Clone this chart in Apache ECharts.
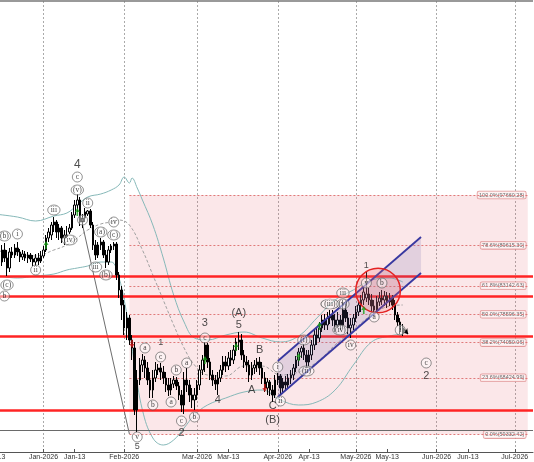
<!DOCTYPE html>
<html>
<head>
<meta charset="utf-8">
<script src="https://cdn.jsdelivr.net/npm/echarts@6/dist/echarts.min.js"></script>
<style>
  html, body { margin: 0; padding: 0; background: #fff; }
  #chart { width: 534px; height: 462px; }
</style>
</head>
<body>
<div id="chart"></div>
<script>
// axis days and tick labels
const firstDay = '2025-12-13';
const lastDay = '2026-07-08';
const tickDates = ['2025-12-13', '2026-01-01', '2026-01-13', '2026-02-01', '2026-03-01', '2026-03-13',
  '2026-04-01', '2026-04-13', '2026-05-01', '2026-05-13', '2026-06-01', '2026-06-13', '2026-07-01'];
const gridDates = ['2026-01-01', '2026-02-01', '2026-03-01', '2026-04-01', '2026-05-01', '2026-06-01', '2026-07-01'];

// daily candles: date, open, close, low, high
const candles = [
  ['2025-12-15', 88070, 86950, 86310, 88870], ['2025-12-16', 86950, 88870, 86310, 89670],
  ['2025-12-17', 88870, 87590, 86950, 89990], ['2025-12-18', 87590, 85990, 84710, 88870],
  ['2025-12-19', 85990, 88550, 85350, 89190], ['2025-12-20', 88550, 88070, 87590, 89350],
  ['2025-12-21', 88070, 89190, 87590, 89830], ['2025-12-22', 89190, 88550, 87910, 90150],
  ['2025-12-23', 88550, 87750, 86950, 89030], ['2025-12-24', 87750, 88230, 87270, 88870],
  ['2025-12-25', 88230, 87590, 87110, 88710], ['2025-12-26', 87590, 88070, 86790, 88550],
  ['2025-12-27', 88070, 87430, 86950, 88390], ['2025-12-28', 87430, 86950, 86310, 88070],
  ['2025-12-29', 86950, 87590, 86310, 88230], ['2025-12-30', 87590, 87110, 86470, 88390],
  ['2025-12-31', 87110, 87910, 86790, 88710],
  ['2026-01-01', 87910, 88870, 87590, 89510], ['2026-01-02', 88870, 90790, 88550, 91270],
  ['2026-01-03', 90790, 91750, 90150, 92390], ['2026-01-04', 91270, 92870, 90470, 93350],
  ['2026-01-05', 92870, 93350, 91750, 94150], ['2026-01-06', 93350, 91750, 90790, 93670],
  ['2026-01-07', 91750, 92390, 90470, 93030], ['2026-01-08', 92390, 90790, 89990, 92710],
  ['2026-01-09', 90790, 91270, 89670, 92070], ['2026-01-10', 91270, 91110, 90790, 92710],
  ['2026-01-11', 91750, 92390, 91430, 93030], ['2026-01-12', 92390, 94470, 92070, 94950],
  ['2026-01-13', 94470, 96070, 93990, 96870], ['2026-01-14', 96070, 96870, 94950, 97830],
  ['2026-01-15', 96870, 93350, 92710, 97350], ['2026-01-16', 93350, 93990, 92390, 94630],
  ['2026-01-17', 93990, 94950, 93350, 95590], ['2026-01-18', 94630, 95110, 94310, 95270],
  ['2026-01-19', 95110, 92870, 92390, 95430], ['2026-01-20', 92870, 89670, 88870, 93350],
  ['2026-01-21', 89670, 88070, 87270, 90470], ['2026-01-22', 88070, 89670, 87590, 90150],
  ['2026-01-23', 89670, 90150, 88870, 90790], ['2026-01-24', 90150, 88070, 87590, 90470],
  ['2026-01-25', 88070, 86950, 85990, 88870], ['2026-01-26', 86950, 88870, 86470, 89510],
  ['2026-01-27', 88870, 89510, 88390, 89830], ['2026-01-28', 89510, 89830, 88870, 90150],
  ['2026-01-29', 89830, 84870, 84070, 90150], ['2026-01-30', 84870, 82470, 81190, 85350],
  ['2026-01-31', 82470, 80070, 77670, 83110],
  ['2026-02-01', 80070, 76390, 75270, 80870], ['2026-02-02', 76390, 77990, 74470, 78950],
  ['2026-02-03', 77990, 74470, 73670, 78470], ['2026-02-04', 74470, 73190, 71270, 75270],
  ['2026-02-05', 73190, 63270, 62470, 74150], ['2026-02-06', 63270, 68070, 59750, 69670],
  ['2026-02-07', 68070, 70470, 67270, 71590], ['2026-02-08', 70470, 71270, 69350, 72230],
  ['2026-02-09', 71270, 69990, 68390, 71910], ['2026-02-10', 69990, 68070, 67270, 70950],
  ['2026-02-11', 68070, 66470, 65190, 69350], ['2026-02-12', 66470, 68390, 65190, 69670],
  ['2026-02-13', 68390, 69670, 67750, 70950], ['2026-02-14', 69670, 69990, 68870, 70630],
  ['2026-02-15', 69990, 69350, 68070, 70790], ['2026-02-16', 69350, 68390, 67430, 70310],
  ['2026-02-17', 68390, 67270, 66150, 69350], ['2026-02-18', 67270, 66470, 65510, 68390],
  ['2026-02-19', 66470, 67430, 65670, 68390], ['2026-02-20', 67430, 68070, 66790, 68710],
  ['2026-02-21', 68070, 67110, 66470, 68550], ['2026-02-22', 67110, 65670, 64870, 67750],
  ['2026-02-23', 65670, 64070, 62950, 66470], ['2026-02-24', 64070, 68070, 62630, 69350],
  ['2026-02-25', 68070, 67270, 66150, 69990], ['2026-02-26', 67270, 65670, 64550, 68070],
  ['2026-02-27', 65670, 64870, 63590, 66790], ['2026-02-28', 64870, 65670, 63270, 66790],
  ['2026-03-01', 65670, 67270, 64870, 68070], ['2026-03-02', 67270, 69670, 66470, 70470],
  ['2026-03-03', 69670, 71270, 68870, 72070], ['2026-03-04', 71270, 73670, 69350, 74150],
  ['2026-03-05', 73670, 70950, 69990, 73990], ['2026-03-06', 70950, 68870, 68070, 71590],
  ['2026-03-07', 68870, 68070, 67110, 69670], ['2026-03-08', 68070, 67430, 66470, 68870],
  ['2026-03-09', 67430, 68390, 65670, 69350], ['2026-03-10', 68390, 69670, 67750, 70470],
  ['2026-03-11', 69670, 70950, 68870, 71910], ['2026-03-12', 70950, 70310, 69350, 71910],
  ['2026-03-13', 70310, 71590, 69670, 72550], ['2026-03-14', 71590, 71270, 70310, 72870],
  ['2026-03-15', 71270, 72870, 70630, 73670], ['2026-03-16', 72870, 74150, 71910, 74790],
  ['2026-03-17', 74150, 74470, 72870, 75750], ['2026-03-18', 74470, 72070, 71270, 75430],
  ['2026-03-19', 72070, 70950, 69990, 72870], ['2026-03-20', 70950, 70470, 69350, 71910],
  ['2026-03-21', 70470, 68870, 67750, 71270], ['2026-03-22', 68870, 69990, 68070, 70950],
  ['2026-03-23', 69990, 70470, 69030, 71270], ['2026-03-24', 70470, 70950, 69350, 71590],
  ['2026-03-25', 70950, 69990, 68870, 71750], ['2026-03-26', 69990, 68390, 67430, 70950],
  ['2026-03-27', 68390, 66790, 66150, 69350], ['2026-03-28', 66790, 67750, 65670, 68390],
  ['2026-03-29', 67750, 66470, 65510, 68070], ['2026-03-30', 66470, 65670, 64550, 67270],
  ['2026-03-31', 65670, 68070, 65190, 68870],
  ['2026-04-01', 68070, 68710, 67270, 69190], ['2026-04-02', 68710, 66790, 65670, 69030],
  ['2026-04-03', 66790, 67750, 66150, 68390], ['2026-04-04', 67750, 67270, 66470, 68710],
  ['2026-04-05', 67270, 68390, 66790, 69030], ['2026-04-06', 68390, 68870, 67430, 69670],
  ['2026-04-07', 68870, 69990, 68070, 70630], ['2026-04-08', 69990, 71270, 69350, 71910],
  ['2026-04-09', 71270, 72550, 70310, 73190], ['2026-04-10', 72550, 73190, 71590, 73510],
  ['2026-04-11', 73190, 72070, 71270, 73830], ['2026-04-12', 72070, 70950, 69990, 72870],
  ['2026-04-13', 70950, 72070, 70310, 72870], ['2026-04-14', 72070, 73670, 71270, 74470],
  ['2026-04-15', 73670, 75270, 72870, 76070], ['2026-04-16', 75270, 74790, 73670, 76390],
  ['2026-04-17', 74790, 76390, 74150, 77350], ['2026-04-18', 76390, 77670, 75750, 78470],
  ['2026-04-19', 77670, 76870, 76070, 78630], ['2026-04-20', 76870, 77990, 76070, 78950],
  ['2026-04-21', 77990, 78470, 77030, 79270], ['2026-04-22', 78470, 77670, 76710, 79270],
  ['2026-04-23', 77670, 76870, 75750, 78630], ['2026-04-24', 76870, 77670, 76390, 78950],
  ['2026-04-25', 77670, 76870, 76070, 78470], ['2026-04-26', 76870, 79270, 76390, 80870],
  ['2026-04-27', 79270, 77990, 77350, 80550], ['2026-04-28', 77990, 76390, 75430, 78950],
  ['2026-04-29', 76390, 76870, 74790, 77990], ['2026-04-30', 76870, 77990, 76070, 78630],
  ['2026-05-01', 77990, 78950, 77350, 79910], ['2026-05-02', 78950, 80070, 78310, 80870],
  ['2026-05-03', 80070, 80870, 78950, 81670], ['2026-05-04', 80870, 82150, 80070, 82790],
  ['2026-05-05', 81190, 81830, 80550, 85350], ['2026-05-06', 81830, 80870, 80070, 82790],
  ['2026-05-07', 80870, 79910, 78950, 81830], ['2026-05-08', 79910, 79270, 78310, 80870],
  ['2026-05-09', 79270, 80550, 78950, 81510], ['2026-05-10', 80550, 81190, 79910, 82150],
  ['2026-05-11', 81190, 80870, 80070, 82470], ['2026-05-12', 80870, 81510, 79910, 82310],
  ['2026-05-13', 81510, 80550, 79590, 82150], ['2026-05-14', 80550, 81190, 79910, 81990],
  ['2026-05-15', 81190, 80070, 79270, 81670], ['2026-05-16', 80070, 78470, 77670, 80870],
  ['2026-05-17', 78470, 77350, 76710, 78950], ['2026-05-18', 77350, 76070, 75430, 77990],
  ['2026-05-19', 76390, 75590, 75110, 77030]
];

// bollinger style envelope
const upperBand = [
  ['2025-12-13', 94630], ['2025-12-22', 94150], ['2025-12-29', 93510], ['2026-01-05', 94310],
  ['2026-01-10', 94790], ['2026-01-14', 96070], ['2026-01-18', 97350], ['2026-01-23', 97830],
  ['2026-01-27', 98470], ['2026-01-30', 99270], ['2026-02-01', 100550], ['2026-02-03', 99590],
  ['2026-02-04', 100390], ['2026-02-06', 98790], ['2026-02-08', 96870], ['2026-02-12', 92870],
  ['2026-02-16', 87590], ['2026-02-20', 81670], ['2026-02-24', 77350], ['2026-02-28', 74790],
  ['2026-03-05', 74470], ['2026-03-12', 75270], ['2026-03-19', 75750], ['2026-03-26', 74790],
  ['2026-04-02', 74150], ['2026-04-09', 75110], ['2026-04-16', 77990], ['2026-04-23', 80870],
  ['2026-04-30', 82470], ['2026-05-07', 84070], ['2026-05-14', 84390], ['2026-05-19', 83750]
];
const middleBand = [
  ['2025-12-13', 88870], ['2025-12-22', 88230], ['2025-12-29', 87910], ['2026-01-05', 88870],
  ['2026-01-10', 89670], ['2026-01-14', 90790], ['2026-01-18', 92070], ['2026-01-23', 93030],
  ['2026-01-27', 93350], ['2026-01-30', 93670], ['2026-02-03', 92870], ['2026-02-08', 88870],
  ['2026-02-12', 84870], ['2026-02-16', 80870], ['2026-02-20', 76870], ['2026-02-24', 73190],
  ['2026-02-28', 70470], ['2026-03-05', 68870], ['2026-03-12', 68710], ['2026-03-19', 70310],
  ['2026-03-26', 70310], ['2026-04-02', 68870], ['2026-04-09', 69350], ['2026-04-16', 70950],
  ['2026-04-23', 73670], ['2026-04-30', 76070], ['2026-05-07', 78470], ['2026-05-14', 79910],
  ['2026-05-19', 80070]
];
const lowerBand = [
  ['2025-12-13', 84870], ['2025-12-22', 84390], ['2025-12-29', 84710], ['2026-01-05', 85030],
  ['2026-01-10', 85670], ['2026-01-14', 85990], ['2026-01-18', 86310], ['2026-01-23', 86950],
  ['2026-01-27', 86950], ['2026-01-30', 84390], ['2026-02-01', 80870], ['2026-02-03', 76070],
  ['2026-02-05', 70470], ['2026-02-08', 63270], ['2026-02-12', 58790], ['2026-02-16', 57670],
  ['2026-02-20', 58470], ['2026-02-24', 60390], ['2026-02-28', 62470], ['2026-03-05', 64070],
  ['2026-03-12', 65190], ['2026-03-19', 66150], ['2026-03-26', 66470], ['2026-04-02', 64870],
  ['2026-04-09', 64070], ['2026-04-16', 64550], ['2026-04-23', 66470], ['2026-04-30', 70470],
  ['2026-05-07', 74150], ['2026-05-14', 75110], ['2026-05-19', 75430]
];
const dropLine = [['2026-01-16', 92870], ['2026-02-03', 59430]];

// fibonacci retracement and horizontal levels
const fibPct = [100, 78.6, 61.8, 50, 38.2, 23.6, 0];
const fibPrice = [97660.28, 89615.30, 83142.63, 78596.35, 74050.06, 68424.99, 59332.42];
const fibFrom = '2026-02-03';
const fibTo = '2026-07-06';
const supportLines = [84630, 81460, 75110, 63270];
const baseLine = 59990;

// channel, ring and arrows
const channelUpper = [['2026-04-01', 71110], ['2026-05-26', 90950]];
const channelLower = [['2026-04-01', 65350], ['2026-05-26', 85190]];
const ringBox = [['2026-05-01', 85990], ['2026-05-18', 78790]];
const buyArrows = [['2026-01-02', 89670], ['2026-01-14', 94950], ['2026-03-04', 71270], ['2026-03-16', 73350],
  ['2026-04-09', 71750], ['2026-04-17', 76710], ['2026-05-04', 79270]];
const sellArrows = [['2026-02-04', 73830], ['2026-03-27', 66790]];
const endArrow = [['2026-05-19', 76390], ['2026-05-21', 75430]];

// wave labels
const circledLabels = [
  ['2025-12-17', 91110, '(b)'], ['2025-12-18', 83270, '(c)'], ['2025-12-17', 81510, 'b'],
  ['2025-12-22', 91430, 'i'], ['2025-12-29', 85670, 'ii'], ['2026-01-05', 95270, 'iii'],
  ['2026-01-11', 90470, '(iv)'], ['2026-01-14', 100550, 'c'], ['2026-01-14', 98470, '(v)'],
  ['2026-01-16', 93670, 'i'], ['2026-01-18', 96390, 'ii'], ['2026-01-21', 86150, 'iii'],
  ['2026-01-23', 91750, '(a)'], ['2026-01-25', 84870, '(b)'], ['2026-01-28', 93350, 'iv'],
  ['2026-01-28', 91270, '(c)'], ['2026-02-06', 58950, 'v'], ['2026-02-09', 73190, 'a'],
  ['2026-02-15', 71750, 'c'], ['2026-02-12', 64070, 'b'], ['2026-02-21', 69670, 'b'],
  ['2026-02-19', 64550, 'a'], ['2026-02-25', 70790, 'a'], ['2026-02-23', 61510, 'c'],
  ['2026-02-28', 62150, 'b'], ['2026-03-04', 74790, 'c'], ['2026-04-01', 70150, 'i'],
  ['2026-04-02', 64710, 'ii'], ['2026-04-11', 74470, '(i)'], ['2026-04-12', 69510, '(ii)'],
  ['2026-04-21', 80230, '(iii)'], ['2026-04-26', 80230, '(v)'], ['2026-04-26', 81990, 'iii'],
  ['2026-04-25', 76070, '(iv)'], ['2026-04-29', 73670, 'iv'], ['2026-05-05', 83590, 'v'],
  ['2026-05-11', 83590, 'b'], ['2026-05-08', 78150, 'a'], ['2026-05-18', 76070, 'i'],
  ['2026-05-28', 70790, 'c']
];
const bigLabels = [
  ['2026-01-14', 102470, '4', 12], ['2026-02-06', 57350, '5', 9], ['2026-02-15', 73990, '1', 9],
  ['2026-02-23', 59590, '2', 11], ['2026-03-04', 77190, '3', 11], ['2026-03-09', 64870, '4', 11],
  ['2026-03-17', 76870, '5', 11], ['2026-03-17', 78790, '(A)', 11], ['2026-03-22', 66470, 'A', 11],
  ['2026-03-25', 72870, 'B', 11], ['2026-03-30', 63910, 'C', 11], ['2026-03-30', 61670, '(B)', 11],
  ['2026-05-05', 86310, '1', 9], ['2026-05-28', 68710, '2', 11]
];

const months = ['Jan', 'Feb', 'Mar', 'Apr', 'May', 'Jun', 'Jul', 'Aug', 'Sep', 'Oct', 'Nov', 'Dec'];

function dayList(from, to) {
  const out = [];
  const t1 = Date.parse(to + 'T00:00:00Z');
  for (let t = Date.parse(from + 'T00:00:00Z'); t <= t1; t += 86400000) {
    out.push(new Date(t).toISOString().slice(0, 10));
  }
  return out;
}
const days = dayList(firstDay, lastDay);
const idx = d => days.indexOf(d);
const pt = r => [idx(r[0]), r[1]];

const candleMap = {};
candles.forEach(r => { candleMap[r[0]] = r.slice(1); });
const candleData = days.map(d => candleMap[d] || '-');

function tickLabel(v) {
  const m = months[+v.slice(5, 7) - 1];
  return v.slice(8) === '01' ? m + '-' + v.slice(0, 4) : m + '-' + v.slice(8);
}

const arrowPath = 'path://M5,0 L10,5 L6.6,5 L6.6,10 L3.4,10 L3.4,5 L0,5 Z';

let chart = echarts.init(document.getElementById('chart'));
chart.setOption({
  animation: false,
  backgroundColor: '#fff',
  grid: { left: -6, right: 1, top: 1, bottom: 10, containLabel: false, outerBoundsMode: 'none' },
  xAxis: {
    type: 'category',
    data: days,
    boundaryGap: false,
    axisLine: { lineStyle: { color: '#555', width: 1 } },
    axisTick: {
      inside: true, length: 3, lineStyle: { color: '#555' },
      interval: (i, v) => tickDates.includes(v)
    },
    axisLabel: {
      interval: (i, v) => tickDates.includes(v),
      formatter: tickLabel,
      fontSize: 7, color: '#333', margin: 2, fontFamily: 'Liberation Sans'
    },
    splitLine: {
      show: true,
      interval: (i, v) => gridDates.includes(v),
      lineStyle: { color: '#aaa', type: [2, 2], width: 1 }
    }
  },
  yAxis: {
    type: 'value', min: 56550, max: 128710, show: false,
    splitLine: { show: false }
  },
  series: [
    {
      // fibonacci zone with labels
      type: 'scatter', z: 1, symbolSize: 0,
      data: fibPrice.map((p, i) => ({
        value: [idx(fibTo), p],
        label: {
          show: true, position: 'left', distance: 2,
          formatter: fibPct[i].toFixed(1) + '%(' + p.toFixed(2) + ')',
          fontSize: 5.5, color: '#444', fontFamily: 'Liberation Sans',
          backgroundColor: 'rgba(255,246,246,0.95)', borderColor: '#d88', borderWidth: 0.8,
          borderRadius: 1.5, padding: [1, 1.5, 0, 1.5]
        }
      })),
      markArea: {
        silent: true,
        itemStyle: { color: 'rgba(225,95,105,0.15)' },
        data: [[{ coord: [idx(fibFrom), fibPrice[0]] }, { coord: [idx(fibTo), fibPrice[6]] }]]
      },
      markLine: {
        silent: true, symbol: 'none', label: { show: false },
        lineStyle: { color: '#e07a7a', type: [2, 2], width: 1 },
        data: fibPrice.map(p => [{ coord: [idx(fibFrom), p] }, { coord: [idx(fibTo), p] }])
      }
    },
    {
      type: 'line', z: 2, data: upperBand.map(pt), smooth: 0.4, symbol: 'none',
      lineStyle: { color: '#86b8b8', width: 1 }
    },
    {
      type: 'line', z: 2, data: middleBand.map(pt), smooth: 0.4, symbol: 'none',
      lineStyle: { color: '#a0a0a0', width: 1, type: [3, 2] }
    },
    {
      type: 'line', z: 2, data: lowerBand.map(pt), smooth: 0.4, symbol: 'none',
      lineStyle: { color: '#86b8b8', width: 1 }
    },
    {
      type: 'line', z: 2, data: dropLine.map(pt), symbol: 'none',
      lineStyle: { color: '#6d6d6d', width: 1 }
    },
    {
      type: 'candlestick', z: 5,
      data: candleData,
      barWidth: 2,
      itemStyle: { color: '#fff', color0: '#000', borderColor: '#000', borderColor0: '#000', borderWidth: 1 },
      markLine: {
        silent: true, symbol: ['none', 'arrow'], symbolSize: 5, label: { show: false },
        lineStyle: { color: '#000', width: 1.2, type: 'solid' },
        data: [[{ coord: pt(endArrow[0]) }, { coord: pt(endArrow[1]) }]]
      }
    },
    {
      // channel
      type: 'custom', z: 6, data: [0],
      renderItem: function (params, api) {
        const u0 = api.coord(pt(channelUpper[0])), u1 = api.coord(pt(channelUpper[1]));
        const l0 = api.coord(pt(channelLower[0])), l1 = api.coord(pt(channelLower[1]));
        return {
          type: 'group',
          children: [
            { type: 'polygon', shape: { points: [u0, u1, l1, l0] }, style: { fill: 'rgba(105,95,170,0.17)' } },
            { type: 'line', shape: { x1: u0[0], y1: u0[1], x2: u1[0], y2: u1[1] }, style: { stroke: '#3838a0', lineWidth: 1.8 } },
            { type: 'line', shape: { x1: l0[0], y1: l0[1], x2: l1[0], y2: l1[1] }, style: { stroke: '#3838a0', lineWidth: 1.8 } }
          ]
        };
      }
    },
    {
      // horizontal levels
      type: 'line', z: 7, data: [], symbol: 'none',
      markLine: {
        silent: true, symbol: 'none', label: { show: false },
        data: supportLines.map(v => ({ yAxis: v, lineStyle: { color: '#ff2424', width: 2.5, type: 'solid' } }))
          .concat([
            { yAxis: baseLine, lineStyle: { color: '#6a6a6a', width: 1, type: 'solid' } },
            { yAxis: 128710, lineStyle: { color: '#777', width: 1.5, type: 'solid' } }
          ])
      }
    },
    {
      // ring
      type: 'custom', z: 8, data: [0],
      renderItem: function (params, api) {
        const a = api.coord(pt(ringBox[0])), b = api.coord(pt(ringBox[1]));
        const r = (Math.abs(b[0] - a[0]) + Math.abs(b[1] - a[1])) / 4;
        return {
          type: 'circle',
          shape: { cx: (a[0] + b[0]) / 2, cy: (a[1] + b[1]) / 2, r: r },
          style: { fill: 'rgba(240,110,110,0.22)', stroke: '#e42222', lineWidth: 1.5 }
        };
      }
    },
    {
      type: 'scatter', z: 9, symbol: arrowPath, symbolSize: [5, 8],
      itemStyle: { color: '#17a017' }, data: buyArrows.map(pt)
    },
    {
      type: 'scatter', z: 9, symbol: arrowPath, symbolSize: [5, 8], symbolRotate: 180,
      itemStyle: { color: '#d81818' }, data: sellArrows.map(pt)
    },
    {
      type: 'scatter', z: 10,
      data: circledLabels.map(r => ({
        value: pt(r), name: r[2],
        symbolSize: [Math.max(10, 4 + r[2].length * 2.8), 10]
      })),
      symbol: 'circle',
      itemStyle: { color: 'rgba(255,255,255,0.6)', borderColor: '#555', borderWidth: 0.8 },
      label: {
        show: true, position: 'inside', formatter: '{b}',
        fontSize: 7.5, color: '#111', fontFamily: 'Liberation Serif'
      }
    },
    {
      type: 'scatter', z: 10, symbolSize: 0,
      data: bigLabels.map(r => ({
        value: pt(r), name: r[2],
        label: { fontSize: r[3] }
      })),
      label: {
        show: true, position: 'inside', formatter: '{b}',
        color: '#222', fontFamily: 'Liberation Sans'
      }
    }
  ]
});
</script>
</body>
</html>
